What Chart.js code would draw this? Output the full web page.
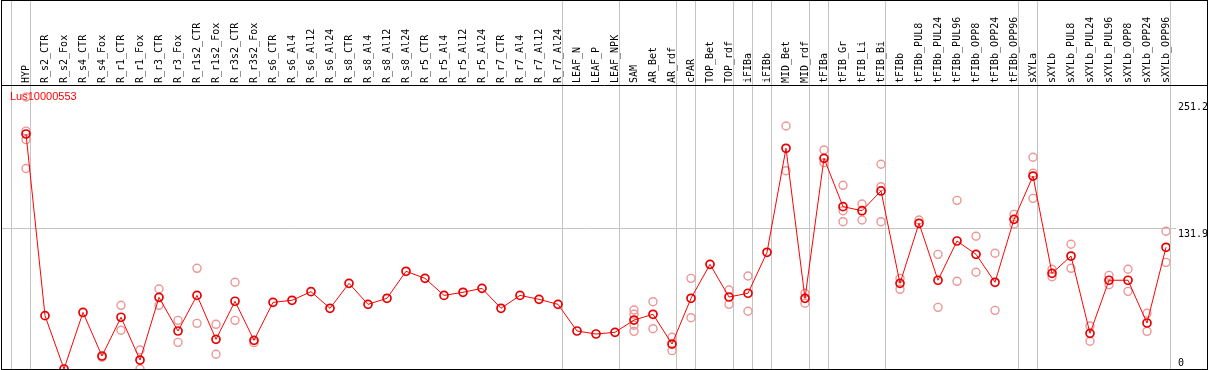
<!DOCTYPE html>
<html><head><meta charset="utf-8">
<script src="https://cdn.jsdelivr.net/npm/chart.js@4.4.0/dist/chart.umd.min.js"></script>
<style>html,body{margin:0;padding:0;background:#fff;overflow:hidden}canvas{display:block}</style>
</head><body>
<canvas id="c" width="1209" height="370"></canvas>
<script>
const categories = ['HYP','R_s2_CTR','R_s2_Fox','R_s4_CTR','R_s4_Fox','R_r1_CTR','R_r1_Fox','R_r3_CTR','R_r3_Fox','R_r1s2_CTR','R_r1s2_Fox','R_r3s2_CTR','R_r3s2_Fox','R_s6_CTR','R_s6_Al4','R_s6_Al12','R_s6_Al24','R_s8_CTR','R_s8_Al4','R_s8_Al12','R_s8_Al24','R_r5_CTR','R_r5_Al4','R_r5_Al12','R_r5_Al24','R_r7_CTR','R_r7_Al4','R_r7_Al12','R_r7_Al24','LEAF_N','LEAF_P','LEAF_NPK','SAM','AR_Bet','AR_rdf','cPAR','TOP_Bet','TOP_rdf','iFIBa','iFIBb','MID_Bet','MID_rdf','tFIBa','tFIB_Gr','tFIB_Li','tFIB_Bi','tFIBb','tFIBb_PUL8','tFIBb_PUL24','tFIBb_PUL96','tFIBb_OPP8','tFIBb_OPP24','tFIBb_OPP96','sXYLa','sXYLb','sXYLb_PUL8','sXYLb_PUL24','sXYLb_PUL96','sXYLb_OPP8','sXYLb_OPP24','sXYLb_OPP96'];

const meanValues = [220.3,50,0,53,12.2,48.5,8.4,67.2,35.6,69,27.8,63.5,26.9,62.5,64.4,72.5,56.9,80.3,60.6,66.3,91.6,85,69,71.9,75.6,56.9,69,65.3,60.6,35.6,32.8,34.4,45.9,51.3,23.4,66.3,98.1,67.5,71,109.4,206.9,66.3,197.5,152.2,148.4,166.9,80.3,136.6,83.2,120,107.5,81.3,140.3,180.9,89.7,105.9,33.4,83.2,83.2,43.1,114.1];

const replicateValues = [
  [255,223,215,188],[],[],[],[11],[59.7,36.3],[17.8,0],[75,59.7],[45.6,25],[94.4,42.8],
  [41.9,13.8],[81.3,45.6],[24.7],[],[],[],[],[],[],[],
  [],[],[],[],[],[],[],[],[],[],
  [],[],[55.3,51.3,41,35.3],[63.1,37.8],[29.7,17.2],[85,48.1],[],[74,60.6],[87.2,54.1],[],
  [227.8,185.9],[71,61.6],[205.3,193.4],[172.2,148.4,138.1],[154.7,139.7],[191.9,170.9,138.1],[85,74.7],[139.7],[107.5,57.8],[158.1,82.2],
  [124.4,90.7],[108.5,55],[145,135.7],[198.5,183.5,160],[93.5,86.5],[116.9,94.4],[40.3,26],[87.8,79],[93.5,72.8],[52.2,35.3],
  [129.1,100]
];

const yTickValues = [0, 131.9, 251.2];
const yTickLabels = ['0', '131.9', '251.2'];
const groupBoundaries = [-1, 0, 28, 31, 34, 35, 37, 38, 39, 41, 42, 45, 52, 53, 60];
const geneName = 'Lus10000553';

const meanData = meanValues.map((v, i) => ({x: i, y: v}));
const repData = replicateValues.flatMap((arr, i) => arr.map(v => ({x: i, y: v})));

const noPad = s => { s.paddingLeft = 0; s.paddingRight = 0; s.paddingTop = 0; s.paddingBottom = 0; };

const framePlugin = {
  id: 'frame',
  beforeDatasetsDraw(chart) {
    const ctx = chart.ctx, xs = chart.scales.x;
    ctx.save();
    ctx.strokeStyle = '#c4c4c4';
    ctx.lineWidth = 1;
    groupBoundaries.forEach(b => {
      const px = Math.floor(xs.getPixelForValue(b + 0.24)) + 0.5;
      ctx.beginPath(); ctx.moveTo(px, 0); ctx.lineTo(px, chart.chartArea.bottom); ctx.stroke();
    });
    ctx.fillStyle = '#ff0000';
    ctx.font = '11px "Liberation Sans"';
    ctx.textBaseline = 'middle';
    ctx.textAlign = 'left';
    ctx.fillText(geneName, chart.chartArea.left + 9, chart.chartArea.top + 11);
    ctx.restore();
  },
  afterDraw(chart) {
    const ctx = chart.ctx;
    ctx.save();
    ctx.strokeStyle = '#000';
    ctx.lineWidth = 1;
    ctx.strokeRect(1.5, 0.5, 1206, 369);
    ctx.beginPath(); ctx.moveTo(1, chart.chartArea.top - 0.5); ctx.lineTo(1208, chart.chartArea.top - 0.5); ctx.stroke();
    ctx.restore();
  }
};

new Chart(document.getElementById('c'), {
  type: 'line',
  data: {
    datasets: [
      {
        type: 'line', data: meanData, order: 1,
        borderColor: '#ff0000', borderWidth: 1, tension: 0, fill: false,
        pointRadius: 4, pointBorderWidth: 1.7, pointBorderColor: '#e80000',
        pointBackgroundColor: 'rgba(0,0,0,0)'
      },
      {
        type: 'scatter', data: repData, order: 2, showLine: false,
        pointRadius: 4, pointBorderWidth: 1.4, pointBorderColor: 'rgb(236,150,150)',
        pointBackgroundColor: 'rgba(0,0,0,0)'
      }
    ]
  },
  options: {
    responsive: false, animation: false, devicePixelRatio: 1,
    layout: { autoPadding: false, padding: { left: 1, right: 0, top: 0, bottom: 1 } },
    plugins: { legend: { display: false }, tooltip: { enabled: false } },
    scales: {
      x: {
        type: 'linear', position: 'top', min: -25 / 19, max: 60 + 4 / 19,
        afterBuildTicks: s => { s.ticks = categories.map((c, i) => ({ value: i })); },
        afterFit: s => { s.height = 86; noPad(s); },
        grid: { display: false, drawTicks: false },
        border: { display: false },
        ticks: {
          autoSkip: false, maxRotation: 90, minRotation: 90, padding: 3, labelOffset: 12, color: '#000',
          font: { family: 'DejaVu Sans Mono', size: 10 },
          callback: v => categories[Math.round(v)]
        }
      },
      y: {
        type: 'linear', position: 'right', min: 0, max: 265.3,
        afterBuildTicks: s => { s.ticks = yTickValues.map(v => ({ value: v })); },
        afterFit: s => { s.width = 39; noPad(s); },
        grid: {
          color: c => (c.tick && c.tick.value === 131.9) ? '#c4c4c4' : 'rgba(0,0,0,0)',
          tickLength: 6, drawTicks: true
        },
        border: { display: false },
        ticks: {
          autoSkip: false, padding: 2, color: '#000',
          font: { family: 'DejaVu Sans Mono', size: 10, lineHeight: 1.2 },
          callback: v => {
            const lbl = yTickLabels[yTickValues.indexOf(v)];
            return v === 0 ? [lbl, ''] : ['', lbl];
          }
        }
      }
    }
  },
  plugins: [framePlugin]
});
</script>
</body></html>
